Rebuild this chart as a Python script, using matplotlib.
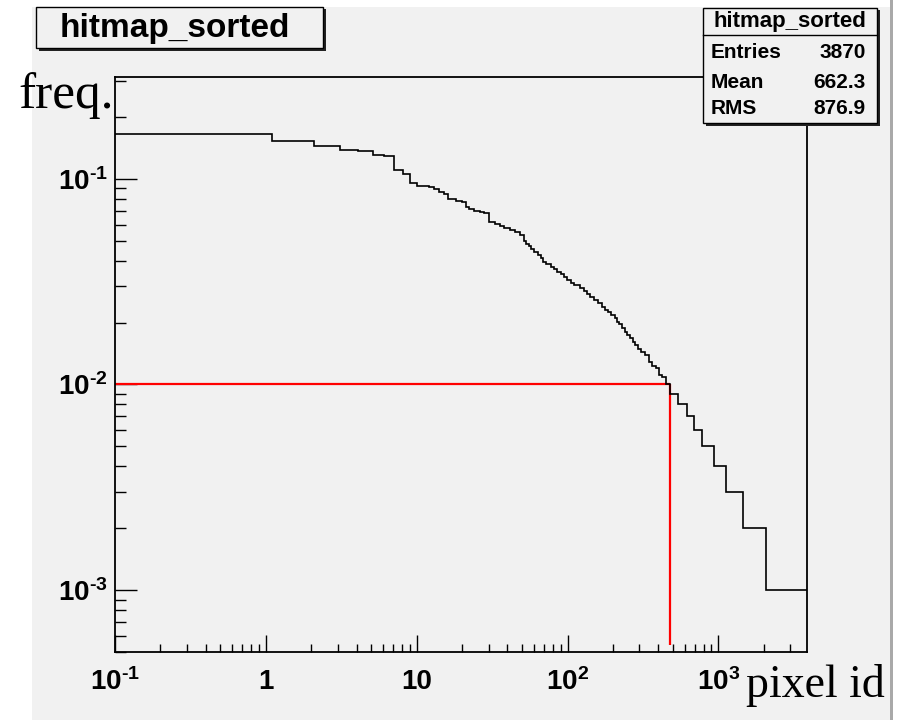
import matplotlib
matplotlib.use("Agg")
import matplotlib.pyplot as plt
from matplotlib.patches import Rectangle
from matplotlib.lines import Line2D
from matplotlib.ticker import FixedLocator, FixedFormatter, LogLocator, NullFormatter
import numpy as np

# ---------------- data ----------------
# upper bin edge at which each frequency level ends (histogram starts at 0.1)
level_end = [1.1, 2.1, 3.1, 4.1, 5.1, 6.1, 7.1, 8.1, 9.1, 10.1,
             12.1, 13.1, 14.1, 15.1, 16.1, 18.1, 20.1, 21.1, 22.1, 24.1,
             26.1, 28.1, 30.1, 33.1, 35.5, 37.9, 41.3, 44.6, 48.1, 51.2,
             52.7, 55.5, 57.5, 60.4, 63.6, 66.9, 69.3, 72.2, 78.0, 81.2,
             84.9, 90.8, 95.4, 99.0, 106, 111, 121, 128, 134, 141,
             149, 159, 169, 176, 185, 195, 205, 213, 221, 229,
             239, 248, 261, 271, 281, 292, 308, 324, 346, 362,
             387, 406, 421, 451, 477, 537, 616, 693, 783, 942,
             1118, 1448, 2070, 3870.1]
freq = [0.166, 0.152, 0.144, 0.138, 0.136, 0.131, 0.129, 0.110, 0.106, 0.095,
        0.092, 0.091, 0.089, 0.086, 0.084, 0.080, 0.078, 0.077, 0.073, 0.071,
        0.070, 0.069, 0.068, 0.0619, 0.0601, 0.0590, 0.0575, 0.0564, 0.0550, 0.0534,
        0.0501, 0.0482, 0.0469, 0.0455, 0.0440, 0.0427, 0.0411, 0.0396, 0.0385, 0.0374,
        0.0364, 0.0354, 0.0345, 0.0332, 0.0322, 0.0311, 0.0305, 0.0294, 0.0286, 0.0276,
        0.0266, 0.0258, 0.0250, 0.0239, 0.0231, 0.0224, 0.0218, 0.0210, 0.0202, 0.0196,
        0.0189, 0.0181, 0.0175, 0.0169, 0.0161, 0.0155, 0.0148, 0.0144, 0.0139, 0.0129,
        0.0123, 0.0120, 0.0111, 0.0109, 0.0100, 0.0090, 0.0080, 0.0070, 0.0060, 0.0050,
        0.0040, 0.0030, 0.0020, 0.0010]
x_start = 0.1
x_max = 3870.1
y_min, y_max = 5e-4, 0.313

# red guide line: freq threshold and pixel id where it is crossed
thr_freq = 0.01
thr_pixel = 476
red_bottom = 5.4e-4

xtick_vals = [0.1, 1, 10, 100, 1000]
xtick_labels = [r'$\mathbf{10^{\text{-}1}}$', '1', '10', r'$\mathbf{10^{2}}$', r'$\mathbf{10^{3}}$']
ytick_vals = [1e-3, 1e-2, 1e-1]
ytick_labels = [r'$\mathbf{10^{\text{-}3}}$', r'$\mathbf{10^{\text{-}2}}$', r'$\mathbf{10^{\text{-}1}}$']

title = "hitmap_sorted"
stats_names = ["Entries", "Mean", "RMS"]
stats_vals = ["3870", "662.3", "876.9"]
xlabel = "pixel id"
ylabel = "freq."

# ---------------- style ----------------
plt.rcParams['font.family'] = ['Liberation Sans', 'DejaVu Sans']
plt.rcParams['mathtext.fontset'] = 'custom'
plt.rcParams['mathtext.bf'] = 'Liberation Sans:bold'
plt.rcParams['mathtext.rm'] = 'Liberation Sans:bold'
plt.rcParams['mathtext.it'] = 'Liberation Sans:italic'

W, H = 899, 720
GRAY = '#f1f1f1'
fig = plt.figure(figsize=(W / 100, H / 100), dpi=100, facecolor='white')


def fx(x):
    return x / W


def fy(y):
    return 1 - y / H


# canvas background
fig.add_artist(Rectangle((fx(32), 0), fx(890) - fx(32), fy(7), transform=fig.transFigure,
                         facecolor=GRAY, edgecolor='none', zorder=-10))
fig.add_artist(Rectangle((fx(890), 0), fx(3), 1, transform=fig.transFigure,
                         facecolor='#a9a9a9', edgecolor='none', zorder=-9))

ax = fig.add_axes([fx(115), fy(652), fx(807) - fx(115), fy(77) - fy(652)])
ax.set_facecolor(GRAY)
ax.set_xscale('log')
ax.set_yscale('log')

edges = [x_start] + level_end
ax.stairs(freq, edges, baseline=None, color='black', linewidth=1.2, zorder=3)

ax.plot([x_start, thr_pixel], [thr_freq, thr_freq], color='#ff0000', linewidth=1.6, zorder=2,
        solid_capstyle='butt')
ax.plot([thr_pixel, thr_pixel], [thr_freq, red_bottom], color='#ff0000', linewidth=1.6, zorder=2,
        solid_capstyle='butt')

ax.set_xlim(x_start, x_max)
ax.set_ylim(y_min, y_max)

for s in ax.spines.values():
    s.set_linewidth(1.3)
    s.set_color('black')

ax.xaxis.set_major_locator(FixedLocator(xtick_vals))
ax.xaxis.set_major_formatter(FixedFormatter(xtick_labels))
ax.xaxis.set_minor_locator(LogLocator(base=10, subs=np.arange(2, 10), numticks=20))
ax.xaxis.set_minor_formatter(NullFormatter())
ax.yaxis.set_major_locator(FixedLocator(ytick_vals))
ax.yaxis.set_major_formatter(FixedFormatter(ytick_labels))
ax.yaxis.set_minor_locator(LogLocator(base=10, subs=np.arange(2, 10), numticks=20))
ax.yaxis.set_minor_formatter(NullFormatter())

ax.tick_params(axis='x', which='major', direction='in', length=12.2, width=1.0, pad=12,
               labelsize=20, top=False)
ax.tick_params(axis='x', which='minor', direction='in', length=6.1, width=1.0, top=False)
ax.tick_params(axis='y', which='major', direction='in', length=15.8, width=1.0, pad=5,
               labelsize=20, right=False)
ax.tick_params(axis='y', which='minor', direction='in', length=7.9, width=1.0, right=False)
for lab in ax.get_xticklabels() + ax.get_yticklabels():
    lab.set_fontweight('bold')

# axis titles (serif)
fig.text(fx(18), fy(108), ylabel, fontsize=37, family=['Liberation Serif', 'DejaVu Serif'],
         ha='left', va='baseline', zorder=6)
fig.text(fx(746), fy(697), xlabel, fontsize=33, family=['Liberation Serif', 'DejaVu Serif'],
         ha='left', va='baseline', zorder=6)

# title box with shadow
tb = (36, 7, 323, 48)
fig.add_artist(Rectangle((fx(tb[0] + 2.5), fy(tb[3] + 2.5)), fx(tb[2] - tb[0]), fy(tb[1]) - fy(tb[3]),
                         transform=fig.transFigure, facecolor='#222222', edgecolor='none', zorder=7))
fig.add_artist(Rectangle((fx(tb[0]), fy(tb[3])), fx(tb[2] - tb[0]), fy(tb[1]) - fy(tb[3]),
                         transform=fig.transFigure, facecolor=GRAY, edgecolor='black', linewidth=1.0,
                         zorder=8))
fig.text(fx((tb[0] + tb[2]) / 2 - 5), fy((tb[1] + tb[3]) / 2 + 1), title, fontsize=24, fontweight='bold',
         ha='center', va='center', zorder=9)

# stats box with shadow
sb = (703, 8, 877, 123)
fig.add_artist(Rectangle((fx(sb[0] + 2.5), fy(sb[3] + 2.5)), fx(sb[2] - sb[0]), fy(sb[1]) - fy(sb[3]),
                         transform=fig.transFigure, facecolor='#222222', edgecolor='none', zorder=7))
fig.add_artist(Rectangle((fx(sb[0]), fy(sb[3])), fx(sb[2] - sb[0]), fy(sb[1]) - fy(sb[3]),
                         transform=fig.transFigure, facecolor=GRAY, edgecolor='black', linewidth=1.0,
                         zorder=8))
fig.add_artist(Line2D([fx(sb[0]), fx(sb[2])], [fy(35), fy(35)], transform=fig.transFigure,
                      color='black', linewidth=1.0, zorder=9))
fig.text(fx((sb[0] + sb[2]) / 2), fy(22), title, fontsize=16, fontweight='bold',
         ha='center', va='center', zorder=9)
row_y = [53, 82, 108]
for name, val, yy in zip(stats_names, stats_vals, row_y):
    fig.text(fx(711), fy(yy), name, fontsize=15, fontweight='bold', ha='left', va='center', zorder=9)
    fig.text(fx(866), fy(yy), val, fontsize=15, fontweight='bold', ha='right', va='center', zorder=9)

fig.savefig('out.png', dpi=100, facecolor='white')
